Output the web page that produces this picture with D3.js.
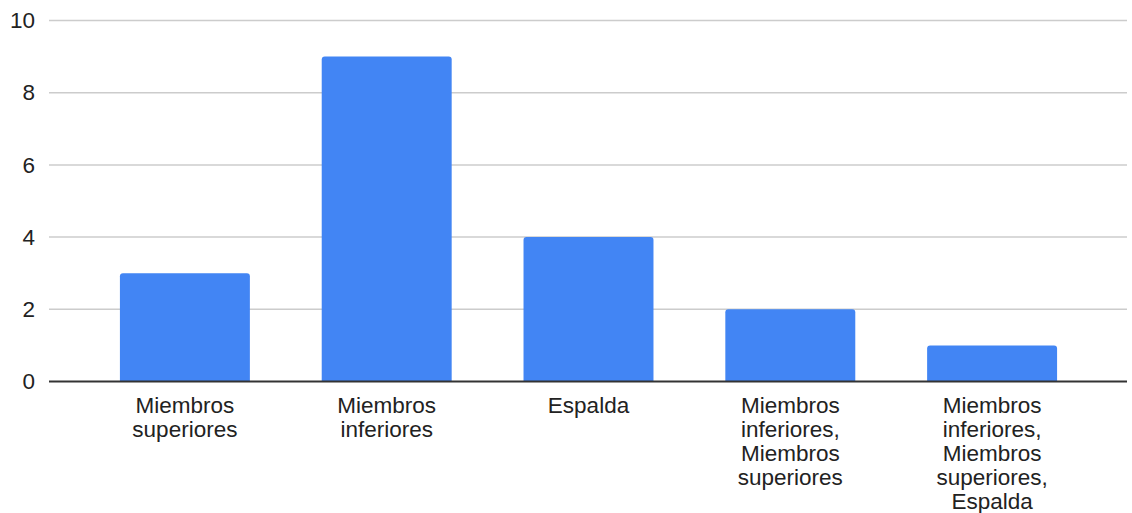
<!DOCTYPE html>
<html>
<head>
<meta charset="utf-8">
<script src="https://cdn.jsdelivr.net/npm/d3@7"></script>
<style>
  html, body { margin: 0; padding: 0; background: #fff; }
  svg { display: block; font-family: "Liberation Sans", Arial, sans-serif; }
</style>
</head>
<body>
<svg id="chart" width="1132" height="513"></svg>
<script>
// Category labels, each split into its display lines
const categories = [
  ["Miembros", "superiores"],
  ["Miembros", "inferiores"],
  ["Espalda"],
  ["Miembros", "inferiores,", "Miembros", "superiores"],
  ["Miembros", "inferiores,", "Miembros", "superiores,", "Espalda"]
];
const values = [3, 9, 4, 2, 1];
const yTicks = [0, 2, 4, 6, 8, 10];

const svg = d3.select("#chart");
const gridLeft = 49, gridRight = 1127;
const fontSize = 22.5;

const y = d3.scaleLinear().domain([0, 10]).range([381.5, 20.5]);
const x = d3.scaleBand()
  .domain(d3.range(values.length))
  .range([84, 1093])
  .paddingInner(0.356)
  .paddingOuter(0.178);

// Horizontal gridlines
svg.append("g")
  .selectAll("line")
  .data(yTicks.filter(t => t !== 0))
  .join("line")
  .attr("x1", gridLeft).attr("x2", gridRight)
  .attr("y1", d => y(d)).attr("y2", d => y(d))
  .attr("stroke", "#cccccc").attr("stroke-width", 1.5);

// Y-axis tick labels
const yAxis = d3.axisLeft(y).tickValues(yTicks).tickSize(0).tickPadding(0);
const gy = svg.append("g").attr("transform", `translate(35,0)`).call(yAxis);
gy.select(".domain").remove();
gy.selectAll("text")
  .attr("font-size", fontSize)
  .attr("fill", "#222")
  .attr("font-family", "Liberation Sans, Arial, sans-serif");

// Bars with lightly rounded tops
const r = 3;
svg.append("g")
  .selectAll("path")
  .data(values)
  .join("path")
  .attr("fill", "#4285f4")
  .attr("d", (d, i) => {
    const x0 = x(i), x1 = x(i) + x.bandwidth();
    const y0 = y(0), y1 = y(d);
    return `M${x0},${y0}V${y1 + r}Q${x0},${y1} ${x0 + r},${y1}H${x1 - r}Q${x1},${y1} ${x1},${y1 + r}V${y0}Z`;
  });

// Baseline at zero
svg.append("line")
  .attr("x1", gridLeft).attr("x2", gridRight)
  .attr("y1", y(0)).attr("y2", y(0))
  .attr("stroke", "#333").attr("stroke-width", 2);

// Multi-line category labels
const labels = svg.append("g")
  .selectAll("text")
  .data(categories)
  .join("text")
  .attr("text-anchor", "middle")
  .attr("font-size", fontSize)
  .attr("fill", "#222")
  .attr("x", (d, i) => x(i) + x.bandwidth() / 2)
  .attr("y", 413);
labels.selectAll("tspan")
  .data(d => d)
  .join("tspan")
  .attr("x", function () { return this.parentNode.getAttribute("x"); })
  .attr("dy", (d, i) => i === 0 ? 0 : 24)
  .text(d => d);
</script>
</body>
</html>
